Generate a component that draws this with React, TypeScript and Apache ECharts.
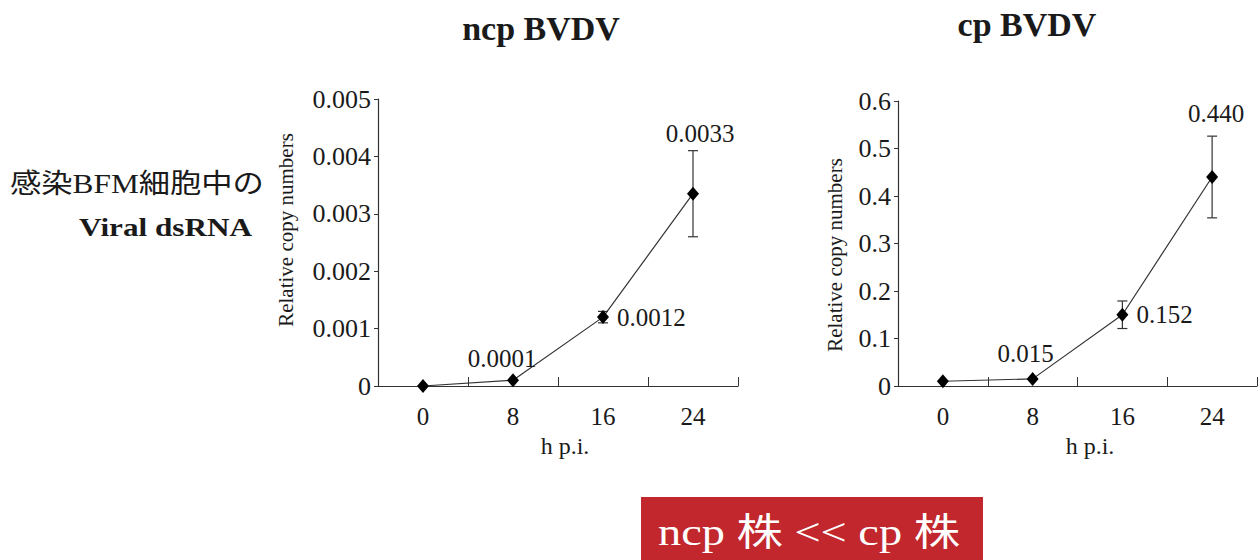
import React, { useEffect, useRef } from "react";
import * as echarts from "echarts";

const categories = ["0", "8", "16", "24"];
const ncpValues = [0, 0.0001, 0.0012, 0.00335];
const ncpErrors = [0, 0, 0.0001, 0.00075];
const ncpLabels = ["", "0.0001", "0.0012", "0.0033"];
const cpValues = [0.01, 0.015, 0.15, 0.44];
const cpErrors = [0, 0, 0.029, 0.086];
const cpLabels = ["", "0.015", "0.152", "0.440"];
const yName = "Relative copy numbers";
const xName = "h p.i.";

const SERIF = "Liberation Serif, Times New Roman, serif";
const MIXED = "Liberation Serif, Noto Sans CJK JP, serif";
const INK = "#1a1a1a";
const LINE = "#333";

// label placement per point: [position, distance, offsetX]
const ncpLabelPos: [string, number, number][] = [["top", 2, 0], ["top", 2, -11], ["right", 8, 0], ["top", 41, 7]];
const cpLabelPos: [string, number, number][] = [["top", 2, 0], ["top", 6, -7], ["right", 8, 0], ["top", 44, 4]];

function lineData(values: number[], labels: string[], pos: [string, number, number][]) {
  return values.map((v, i) => ({
    value: v,
    label: {
      show: labels[i] !== "",
      formatter: labels[i],
      position: pos[i][0],
      distance: pos[i][1],
      offset: [pos[i][2], 0],
      fontFamily: SERIF,
      fontSize: 25,
      color: INK,
    },
  }));
}

function errData(values: number[], errs: number[]) {
  return values
    .map((v, i) => [i, v + errs[i], v - errs[i], errs[i]])
    .filter((d) => d[3] > 0);
}

function renderErr(params: any, api: any) {
  const idx = api.value(0);
  const hi = api.coord([idx, api.value(1)]);
  const lo = api.coord([idx, api.value(2)]);
  const half = 5;
  const style = { stroke: LINE, lineWidth: 1.2 };
  return {
    type: "group",
    children: [
      { type: "line", shape: { x1: hi[0], y1: hi[1], x2: lo[0], y2: lo[1] }, style },
      { type: "line", shape: { x1: hi[0] - half, y1: hi[1], x2: hi[0] + half, y2: hi[1] }, style },
      { type: "line", shape: { x1: lo[0] - half, y1: lo[1], x2: lo[0] + half, y2: lo[1] }, style },
    ],
  };
}

function xAxis(gridIndex: number) {
  return {
    type: "category",
    gridIndex,
    data: categories,
    boundaryGap: true,
    axisLine: { lineStyle: { color: LINE, width: 1.2 } },
    axisTick: { show: true, inside: true, length: 9, lineStyle: { color: LINE } },
    axisLabel: { fontFamily: SERIF, fontSize: 25, color: INK, margin: 18 },
  };
}

function yAxis(gridIndex: number, max: number, interval: number) {
  return {
    type: "value",
    gridIndex,
    min: 0,
    max,
    interval,
    axisLine: { show: true, lineStyle: { color: LINE, width: 1.2 } },
    axisTick: { show: true, length: 4, lineStyle: { color: LINE } },
    splitLine: { show: false },
    axisLabel: { fontFamily: SERIF, fontSize: 26, color: INK, margin: 7 },
  };
}

function txt(text: string, x: number, y: number, size: number, opts: any = {}) {
  const { weight = "normal", family = SERIF, fill = INK, align = "center", scaleX = 1, rotation = 0 } = opts;
  return {
    type: "text",
    x,
    y,
    scaleX,
    rotation,
    style: {
      text,
      fontFamily: family,
      fontSize: size,
      fontWeight: weight,
      fill,
      align,
      verticalAlign: "middle",
    },
  };
}

export default function App() {
  const ref = useRef<HTMLDivElement>(null);
  useEffect(() => {
    document.body.style.margin = "0";
    if (!ref.current) return;
    const chart = echarts.init(ref.current, null, { renderer: "svg" });
    chart.setOption({
      animation: false,
      backgroundColor: "#fff",
      grid: [
        { left: 378, top: 99, width: 360, height: 287 },
        { left: 898, top: 101, width: 359, height: 285 },
      ],
      xAxis: [xAxis(0), xAxis(1)],
      yAxis: [yAxis(0, 0.005, 0.001), yAxis(1, 0.6, 0.1)],
      series: [
        {
          type: "line",
          xAxisIndex: 0,
          yAxisIndex: 0,
          data: lineData(ncpValues, ncpLabels, ncpLabelPos),
          symbol: "diamond",
          symbolSize: [12, 14],
          itemStyle: { color: "#000" },
          lineStyle: { color: LINE, width: 1.2 },
          z: 3,
        },
        {
          type: "custom",
          xAxisIndex: 0,
          yAxisIndex: 0,
          data: errData(ncpValues, ncpErrors),
          encode: { x: 0, y: [1, 2] },
          renderItem: renderErr,
          z: 2,
        },
        {
          type: "line",
          xAxisIndex: 1,
          yAxisIndex: 1,
          data: lineData(cpValues, cpLabels, cpLabelPos),
          symbol: "diamond",
          symbolSize: [12, 14],
          itemStyle: { color: "#000" },
          lineStyle: { color: LINE, width: 1.2 },
          z: 3,
        },
        {
          type: "custom",
          xAxisIndex: 1,
          yAxisIndex: 1,
          data: errData(cpValues, cpErrors),
          encode: { x: 0, y: [1, 2] },
          renderItem: renderErr,
          z: 2,
        },
      ],
      graphic: [
        txt("ncp BVDV", 541, 28, 34, { weight: "bold" }),
        txt("cp BVDV", 1027, 24, 34, { weight: "bold" }),
        txt("感染BFM細胞中の", 10, 184, 27, { family: MIXED, align: "left", scaleX: 1.16 }),
        txt("Viral dsRNA", 252, 227, 26, { weight: "bold", align: "right", scaleX: 1.2 }),
        txt(yName, 286, 230, 21, { rotation: Math.PI / 2 }),
        txt(yName, 835, 255, 21, { rotation: Math.PI / 2 }),
        txt(xName, 565, 446, 24),
        txt(xName, 1090, 446, 24),
        {
          type: "rect",
          shape: { x: 641, y: 497, width: 342, height: 63 },
          style: { fill: "#C1272D" },
        },
        txt("ncp 株 << cp 株", 809, 532, 38, { family: MIXED, fill: "#fff", scaleX: 1.22 }),
      ],
    });
    return () => chart.dispose();
  }, []);
  return <div ref={ref} style={{ width: 1260, height: 560 }} />;
}
